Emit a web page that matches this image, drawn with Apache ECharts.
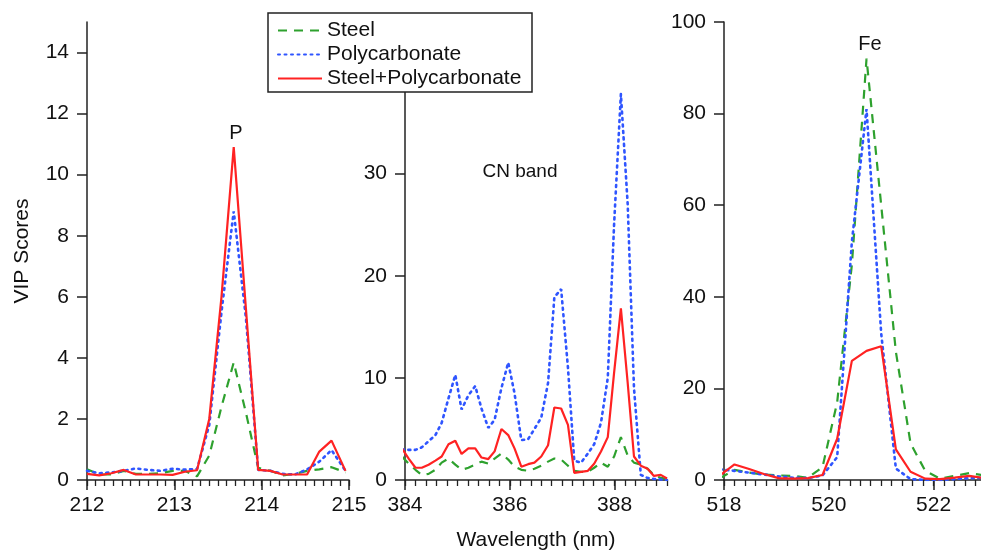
<!DOCTYPE html>
<html>
<head>
    <meta charset="utf-8">
    <script src="https://cdn.jsdelivr.net/npm/echarts@6/dist/echarts.min.js"></script>
    <style type="text/css">
        html, body { margin: 0; padding: 0; background: #fff; }
        #main { width: 981px; height: 552px; }
    </style>
</head>
<body>
    <div id="main"></div>
    <script>
        // P line (212-215 nm)
        var pWave = [212.00, 212.14, 212.28, 212.42, 212.56, 212.70, 212.84, 212.98, 213.12, 213.26, 213.40,
            213.54, 213.68, 213.82, 213.96, 214.10, 214.24, 214.38, 214.52, 214.66, 214.80, 214.96];
        var pSteel = [0.35, 0.18, 0.18, 0.30, 0.20, 0.20, 0.22, 0.30, 0.30, 0.12, 0.8,
            2.4, 3.85, 2.2, 0.40, 0.30, 0.15, 0.20, 0.30, 0.35, 0.42, 0.25];
        var pPoly = [0.30, 0.22, 0.25, 0.30, 0.38, 0.33, 0.30, 0.37, 0.34, 0.36, 1.8,
            5.5, 8.8, 5.3, 0.33, 0.30, 0.20, 0.18, 0.35, 0.60, 0.98, 0.30];
        var pMix = [0.20, 0.15, 0.22, 0.33, 0.18, 0.18, 0.18, 0.17, 0.27, 0.32, 2.0,
            6.0, 10.9, 5.6, 0.33, 0.30, 0.18, 0.18, 0.18, 0.93, 1.29, 0.30];

        // CN band (384-389 nm)
        var cnWave = [383.94, 384.07, 384.20, 384.32, 384.45, 384.58, 384.70, 384.83, 384.96, 385.08,
            385.21, 385.34, 385.46, 385.59, 385.71, 385.84, 385.97, 386.09, 386.22, 386.35,
            386.47, 386.60, 386.73, 386.85, 386.98, 387.11, 387.23, 387.36, 387.49, 387.61,
            387.74, 387.87, 387.99, 388.12, 388.25, 388.37, 388.50, 388.63, 388.75, 388.88, 389.00];
        var cnSteel = [2.3, 1.6, 1.0, 0.5, 0.6, 1.0, 1.7, 2.1, 1.5, 1.0,
            1.2, 1.5, 1.8, 1.6, 2.1, 2.6, 2.0, 1.3, 1.0, 0.9,
            1.1, 1.4, 1.8, 2.1, 2.0, 1.4, 0.9, 0.8, 0.8, 1.2,
            1.7, 1.3, 2.3, 4.2, 2.4, 1.7, 1.5, 1.1, 0.5, 0.2, 0.1];
        var cnPoly = [3.0, 2.95, 2.95, 3.2, 3.8, 4.4, 5.6, 8.0, 10.3, 6.9,
            8.3, 9.2, 7.0, 5.1, 5.9, 9.0, 11.5, 8.5, 3.9, 4.0,
            5.0, 6.1, 9.5, 17.9, 18.7, 11.0, 1.9, 1.7, 2.6, 3.5,
            5.6, 10.0, 25.0, 37.8, 27.0, 9.0, 0.5, 0.2, 0.1, 0.05, 0.0];
        var cnMix = [3.1, 2.1, 1.2, 1.2, 1.5, 1.9, 2.3, 3.5, 3.85, 2.55,
            3.1, 3.1, 2.2, 2.05, 2.8, 5.0, 4.4, 3.1, 1.3, 1.55,
            1.7, 2.3, 3.4, 7.1, 7.0, 5.4, 0.7, 0.8, 0.9, 1.6,
            2.8, 4.2, 10.5, 16.8, 9.5, 2.3, 1.4, 1.1, 0.4, 0.5, 0.15];

        // Fe line (518-523 nm)
        var feWave = [517.92, 518.20, 518.48, 518.76, 519.04, 519.32, 519.60, 519.88, 520.16, 520.44,
            520.72, 521.00, 521.28, 521.56, 521.84, 522.12, 522.40, 522.68, 522.96, 523.24];
        var feSteel = [0.4, 2.2, 1.6, 1.2, 1.0, 0.9, 0.5, 2.8, 17.0, 47.0,
            92.0, 60.0, 28.0, 8.0, 2.0, 0.3, 0.9, 1.5, 1.0, 1.0];
        var fePoly = [2.3, 2.0, 1.6, 1.2, 0.8, 0.5, 0.4, 1.0, 5.0, 52.0,
            81.0, 32.0, 2.5, 0.2, 0.0, 0.0, 0.2, 0.4, 0.5, 0.5];
        var feMix = [1.0, 3.4, 2.4, 1.3, 0.4, 0.3, 0.4, 1.1, 9.0, 26.0,
            28.2, 29.2, 6.7, 1.8, 0.3, 0.2, 0.5, 0.9, 0.4, 0.3];

        // axis ticks / labels
        var pXTicks = [212, 213, 214, 215];
        var cnXTicks = [384, 386, 388];
        var feXTicks = [518, 520, 522];
        var pYTicks = [0, 2, 4, 6, 8, 10, 12, 14];
        var cnYTicks = [0, 10, 20, 30];
        var feYTicks = [0, 20, 40, 60, 80, 100];

        var seriesNames = ['Steel', 'Polycarbonate', 'Steel+Polycarbonate'];

        var FONT = 'Liberation Sans, Arial, Helvetica, sans-serif';
        var AXIS_COLOR = '#222';

        var panels = [
            { left: 87, top: 22, height: 458, xmin: 212, xmax: 215, minor: 0.1, xt: pXTicks, ymax: 15, yt: pYTicks,
              x: pWave, ys: [pSteel, pPoly, pMix] },
            { left: 405, top: 92, height: 388, xmin: 384, xmax: 389, minor: 0.2, xt: cnXTicks, ymax: 38, yt: cnYTicks,
              x: cnWave, ys: [cnSteel, cnPoly, cnMix] },
            { left: 724, top: 22, height: 458, xmin: 518, xmax: 523, minor: 0.2, xt: feXTicks, ymax: 100, yt: feYTicks,
              x: feWave, ys: [feSteel, fePoly, feMix] }
        ];

        var lineStyles = [
            { color: '#2ea12e', width: 2.2, type: [9, 7] },
            { color: '#2f55ff', width: 2.6, type: [2, 4.5], cap: 'round' },
            { color: '#ff2222', width: 2.2, type: 'solid' }
        ];

        var grid = [], xAxis = [], yAxis = [], series = [];

        panels.forEach(function (p, i) {
            grid.push({ left: p.left, top: p.top, width: 262, height: p.height, outerBoundsMode: 'none' });

            // major ticks + labels
            xAxis.push({
                type: 'value', gridIndex: i, min: p.xmin, max: p.xmax, position: 'bottom',
                axisLine: { show: true, onZero: false, lineStyle: { color: AXIS_COLOR, width: 1.5 } },
                axisTick: { show: true, length: 10, customValues: p.xt, lineStyle: { color: AXIS_COLOR, width: 1.5 } },
                axisLabel: { customValues: p.xt, fontSize: 21, color: '#111', fontFamily: FONT, margin: 15 },
                splitLine: { show: false },
                name: i === 1 ? 'Wavelength (nm)' : '',
                nameLocation: 'middle', nameGap: 50,
                nameTextStyle: { fontSize: 21, color: '#111', fontFamily: FONT }
            });
            // minor ticks
            xAxis.push({
                type: 'value', gridIndex: i, min: p.xmin, max: p.xmax, interval: p.minor, position: 'bottom',
                axisLine: { show: false },
                axisTick: { show: true, length: 6, lineStyle: { color: AXIS_COLOR, width: 1.3 } },
                axisLabel: { show: false },
                splitLine: { show: false }
            });

            yAxis.push({
                type: 'value', gridIndex: i, min: 0, max: p.ymax,
                axisLine: { show: true, lineStyle: { color: AXIS_COLOR, width: 1.5 } },
                axisTick: { show: true, length: 10, customValues: p.yt, lineStyle: { color: AXIS_COLOR, width: 1.5 } },
                axisLabel: { customValues: p.yt, fontSize: 21, color: '#111', fontFamily: FONT, margin: 18 },
                splitLine: { show: false },
                name: i === 0 ? 'VIP Scores' : '',
                nameLocation: 'middle', nameGap: 54, nameRotate: 90,
                nameTextStyle: { fontSize: 21, color: '#111', fontFamily: FONT }
            });

            p.ys.forEach(function (vals, s) {
                series.push({
                    name: seriesNames[s],
                    type: 'line',
                    xAxisIndex: i * 2,
                    yAxisIndex: i,
                    data: p.x.map(function (w, k) { return [w, vals[k]]; }),
                    symbol: 'none',
                    clip: true,
                    lineStyle: lineStyles[s],
                    itemStyle: { color: lineStyles[s].color },
                    silent: true
                });
            });
        });

        var myChart = echarts.init(document.getElementById('main'));
        myChart.setOption({
            animation: false,
            backgroundColor: '#fff',
            textStyle: { fontFamily: FONT },
            grid: grid,
            xAxis: xAxis,
            yAxis: yAxis,
            series: series,
            legend: {
                data: seriesNames,
                orient: 'vertical',
                left: 272, top: 15,
                itemWidth: 44, itemHeight: 14, itemGap: 3,
                itemStyle: { opacity: 0 },
                textStyle: { fontSize: 21, color: '#111', fontFamily: FONT },
                z: 10
            },
            graphic: [
                // legend frame
                { type: 'rect', z: 9, shape: { x: 268, y: 13, width: 264, height: 79 },
                  style: { fill: '#fff', stroke: '#222', lineWidth: 1.5 } },
                { type: 'text', z: 5, x: 236, y: 133, style: { text: 'P', font: '20px ' + FONT, fill: '#111', textAlign: 'center', textVerticalAlign: 'middle' } },
                { type: 'text', z: 5, x: 520, y: 172, style: { text: 'CN band', font: '19px ' + FONT, fill: '#111', textAlign: 'center', textVerticalAlign: 'middle' } },
                { type: 'text', z: 5, x: 870, y: 44, style: { text: 'Fe', font: '20px ' + FONT, fill: '#111', textAlign: 'center', textVerticalAlign: 'middle' } }
            ]
        });
    </script>
</body>
</html>
